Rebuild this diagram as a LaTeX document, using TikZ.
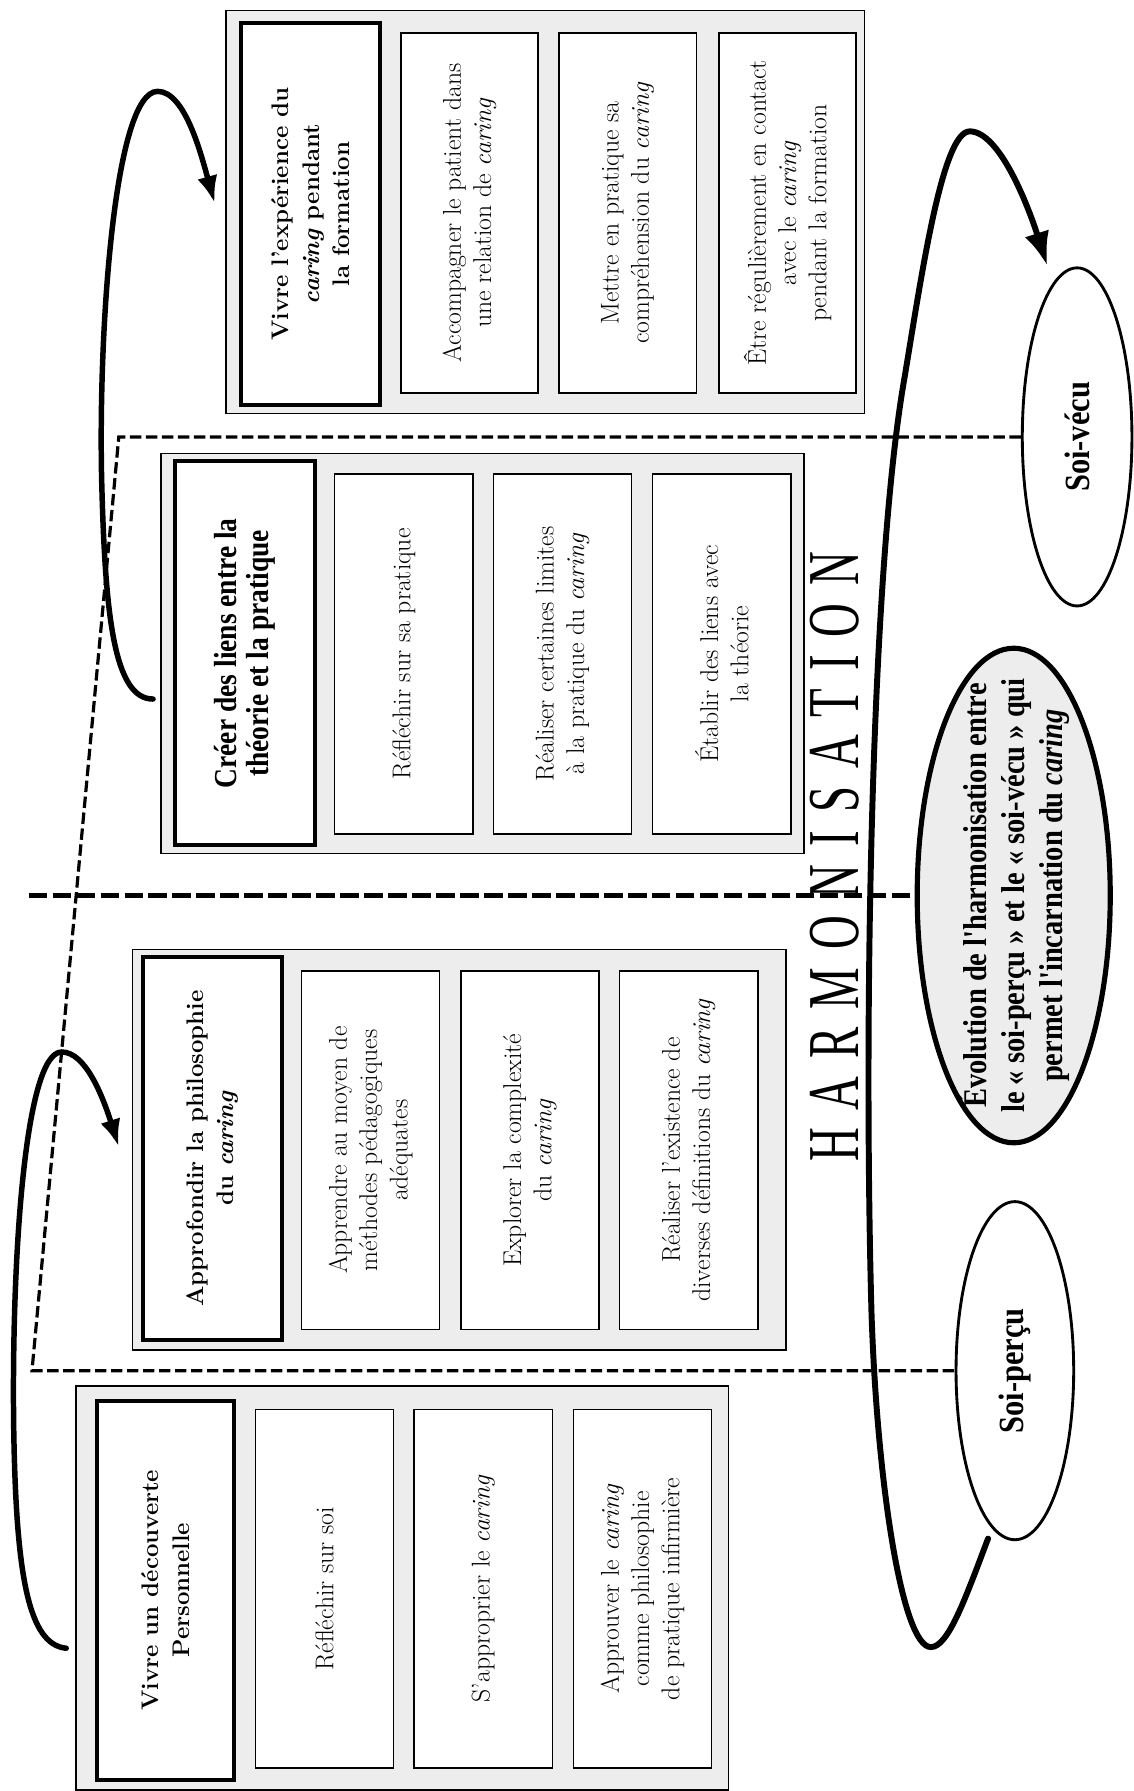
\documentclass[tikz,border=0pt]{standalone}
\usepackage{fontspec}
\usetikzlibrary{arrows.meta,shapes.geometric}
\newfontfamily\narrowfont[FakeStretch=0.86]{Liberation Serif}
\newfontfamily\harmofont[FakeStretch=0.64]{Liberation Serif}
\definecolor{bandgray}{gray}{0.93}
\def\hgap{\kern15.7pt}
\tikzset{
	colframe/.style={draw, line width=1.2pt, fill=bandgray},
	taskbox/.style={draw, line width=1.2pt, fill=white, rotate=90, align=center, inner sep=0pt, font=\fontsize{22.5}{26.5}\selectfont},
	headbox/.style={taskbox, line width=3.5pt, font=\fontsize{21}{27}\selectfont\bfseries},
	selfellipse/.style={ellipse, draw, line width=2.5pt, fill=white, inner sep=0pt, rotate=90, font=\narrowfont\bfseries\fontsize{31}{31}\selectfont},
	bendarrow/.style={line width=4.8pt, line cap=round, -{Latex[length=24pt,width=18pt]}},
	thindash/.style={line width=2.8pt, dash pattern=on 10pt off 4pt},
	thickdash/.style={line width=4.2pt, dash pattern=on 16pt off 5pt},
}

\begin{document}
\begin{tikzpicture}[x=1pt,y=-1pt]
		%%%%% START %%%%%
		\useasboundingbox (0,0) rectangle (992,1568);
		
		% etape 4 (haut)
		\draw[colframe] (198,9) rectangle (757,362);
		\node[headbox, minimum width=335pt, minimum height=122pt] (h4) at (272,187.5) {Vivre l'expérience du\\\textit{caring} pendant\\la formation};
		\node[taskbox, minimum width=315pt, minimum height=120pt] (c4a) at (411,186.5) {Accompagner le patient dans\\une relation de \textit{caring}};
		\node[taskbox, minimum width=315pt, minimum height=120pt] (c4b) at (549.5,186.5) {Mettre en pratique sa\\compréhension du \textit{caring}};
		\node[taskbox, minimum width=315pt, minimum height=120pt] (c4c) at (689.5,186.5) {Être régulièrement en contact\\avec le \textit{caring}\\pendant la formation};
		
		% etape 3
		\draw[colframe] (141,397) rectangle (704,747);
		\node[headbox, font=\narrowfont\bfseries\fontsize{28}{28}\selectfont, minimum width=336pt, minimum height=123pt] (h3) at (214.5,572) {Créer des liens entre la\\théorie et la pratique};
		\node[taskbox, minimum width=315pt, minimum height=121pt] (c3a) at (353.5,572.5) {Réfléchir sur sa pratique};
		\node[taskbox, minimum width=315pt, minimum height=121pt] (c3b) at (492.5,572.5) {Réaliser certaines limites\\à la pratique du \textit{caring}};
		\node[taskbox, minimum width=315pt, minimum height=121pt] (c3c) at (632,572.5) {Établir des liens avec\\la théorie};
		
		% etape 2
		\draw[colframe] (116,831) rectangle (688,1182);
		\node[headbox, minimum width=335pt, minimum height=122pt] (h2) at (186,1005.5) {Approfondir la philosophie\\du \textit{caring}};
		\node[taskbox, minimum width=314pt, minimum height=121pt] (c2a) at (324.5,1007) {Apprendre au moyen de\\méthodes pédagogiques\\adéquates};
		\node[taskbox, minimum width=314pt, minimum height=121pt] (c2b) at (464,1007) {Explorer la complexité\\du \textit{caring}};
		\node[taskbox, minimum width=314pt, minimum height=121pt] (c2c) at (603,1007) {Réaliser l'existence de\\diverses définitions du \textit{caring}};
		
		% etape 1 (bas)
		\draw[colframe] (66.5,1213.5) rectangle (638,1567);
		\node[headbox, minimum width=332pt, minimum height=120pt] (h1) at (145.25,1392.25) {Vivre un découverte\\Personnelle};
		\node[taskbox, minimum width=314pt, minimum height=121pt] (c1a) at (284.25,1391) {Réfléchir sur soi};
		\node[taskbox, minimum width=314pt, minimum height=121pt] (c1b) at (423,1391) {S'approprier le \textit{caring}};
		\node[taskbox, minimum width=314pt, minimum height=121pt] (c1c) at (562.5,1391) {Approuver le \textit{caring}\\comme philosophie\\de pratique infirmière};
		
		% soi-vecu, soi-percu, evolution
		\node[selfellipse, minimum width=296pt, minimum height=96pt] (vecu) at (943,382.5) {Soi-vécu};
		\node[selfellipse, minimum width=296pt, minimum height=103pt] (percu) at (888.5,1200) {Soi-perçu};
		\node[selfellipse, line width=4.5pt, fill=bandgray, minimum width=433pt, minimum height=169pt] (evol) at (887.5,784) {};
		\node[rotate=90, align=center, inner sep=0pt, font=\narrowfont\bfseries\fontsize{29}{33.5}\selectfont] (evoltxt) at (evol) {Évolution de l'harmonisation entre\\le «~soi-perçu~» et le «~soi-vécu~» qui\\permet l'incarnation du \textit{caring}};
		
		% pointilles
		\coordinate (dtop) at (104,382.5);
		\coordinate (dbot) at (28,1200);
		\coordinate (dmid) at (25,784);
		\draw[thindash] (vecu.north) -- (dtop) -- (dbot) -- (percu.north);
		\draw[thickdash] (dmid) -- (evol.north);
		
		\node[rotate=90, inner sep=0pt, font=\harmofont\fontsize{64}{64}\selectfont] (harmo) at (731,750) {H\hgap A\hgap R\hgap M\hgap O\hgap N\hgap I\hgap S\hgap A\hgap T\hgap I\hgap O\hgap N};
		
		% fleches
		\coordinate (tailA) at (58,1443);
		\coordinate (tipA) at (104,1004);
		\draw[bendarrow] (tailA) .. controls (25,1440) and (14,1380) .. (12,1250) .. controls (10,1100) and (22,921) .. (54,921) .. controls (75,921) and (90,960) .. (tipA);
		
		\coordinate (tailB) at (134,612);
		\coordinate (tipB) at (188,178);
		\draw[bendarrow] (tailB) .. controls (100,612) and (92,540) .. (89,420) .. controls (86,290) and (100,80) .. (138,80) .. controls (162,80) and (176,135) .. (tipB);
		
		\coordinate (tailC) at (865,1347);
		\coordinate (tipC) at (917,233);
		\draw[bendarrow, line width=5.2pt, -{Latex[length=30pt,width=22pt]}] (tailC) .. controls (845,1400) and (830,1442) .. (815,1442) .. controls (790,1442) and (768,1300) .. (763,1150) .. controls (756,900) and (762,500) .. (792,330) .. controls (807,240) and (825,115) .. (849,115) .. controls (875,115) and (900,180) .. (tipC);
		
		%%%%% END %%%%%
\end{tikzpicture}
\end{document}
